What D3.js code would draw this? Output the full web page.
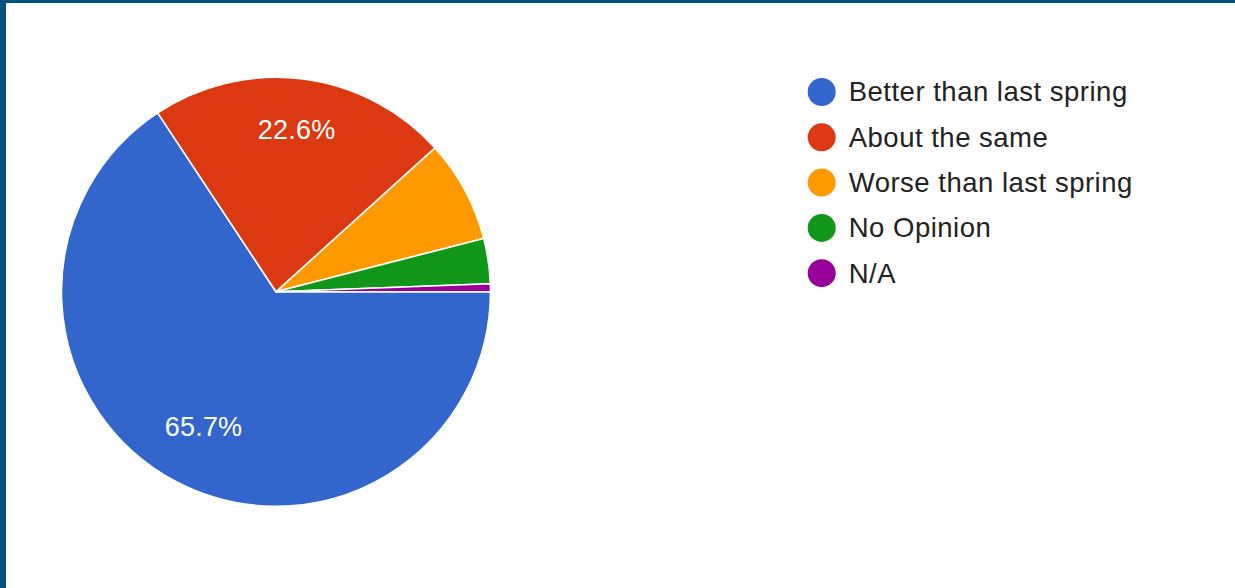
<!DOCTYPE html>
<html>
<head>
<meta charset="utf-8">
<script src="https://cdn.jsdelivr.net/npm/d3@7"></script>
<style>
  html, body { margin: 0; padding: 0; background: #ffffff; }
  svg { display: block; font-family: "Liberation Sans", Arial, Helvetica, sans-serif; }
</style>
</head>
<body>
<svg id="chart" width="1235" height="588"></svg>
<script>
// Survey answers (share of responses, %)
const categories = ["Better than last spring", "About the same", "Worse than last spring", "No Opinion", "N/A"];
const shares = [65.7, 22.6, 7.7, 3.4, 0.6];
const colors = ["#3366cc", "#dc3912", "#ff9900", "#109618", "#990099"];

const W = 1235, H = 588;
const svg = d3.select("#chart");

// frame
svg.append("rect").attr("x", 0).attr("y", 0).attr("width", W).attr("height", H).attr("fill", "#03517e");
svg.append("rect").attr("x", 6).attr("y", 3).attr("width", W - 6).attr("height", H - 3).attr("fill", "#ffffff");

const cx = 276, cy = 291.8, R = 214.5;
const data = categories.map((c, i) => ({ name: c, value: shares[i] }));

const color = d3.scaleOrdinal().domain(categories).range(colors);

// slices run clockwise starting from 3 o'clock
const pie = d3.pie().value(d => d.value).sort(null)
  .startAngle(Math.PI / 2).endAngle(Math.PI / 2 + 2 * Math.PI);
const arcs = pie(data);
const arc = d3.arc().innerRadius(0).outerRadius(R);

const g = svg.append("g").attr("transform", `translate(${cx},${cy})`);
g.selectAll("path.slice").data(arcs).join("path")
  .attr("class", "slice")
  .attr("d", arc)
  .attr("fill", d => color(d.data.name))
  .attr("stroke", "#ffffff")
  .attr("stroke-width", 1.6)
  .attr("stroke-linejoin", "round");

// percentage labels for the larger slices; the label box is pushed out along
// the bisector until its outer corner reaches 85% of the radius
const fmt = d => d.toFixed(1) + "%";
const labelSize = 27, capH = labelSize * 0.716;
g.selectAll("text.pct").data(arcs.filter(d => d.data.value >= 10)).join("text")
  .attr("class", "pct")
  .attr("fill", "#ffffff")
  .attr("font-size", labelSize)
  .attr("letter-spacing", 0.2)
  .attr("text-anchor", "middle")
  .text(d => fmt(d.data.value))
  .each(function (d) {
    const a = (d.startAngle + d.endAngle) / 2;
    const ux = Math.sin(a), uy = -Math.cos(a);
    const hw = this.getComputedTextLength() / 2, hh = capH / 2;
    const sx = Math.sign(ux) * hw, sy = Math.sign(uy) * hh;
    const target = R * 0.85;
    // |rho*u + s|^2 = target^2
    const b = ux * sx + uy * sy;
    const c = sx * sx + sy * sy - target * target;
    const rho = -b + Math.sqrt(b * b - c);
    d3.select(this)
      .attr("x", rho * ux)
      .attr("y", rho * uy + hh);
  });

// legend
const legend = svg.append("g").attr("transform", "translate(821.7,92)");
const rowH = 45.3;
const rows = legend.selectAll("g.row").data(categories).join("g")
  .attr("class", "row")
  .attr("transform", (d, i) => `translate(0,${i * rowH})`);
rows.append("circle").attr("r", 14).attr("fill", d => color(d));
rows.append("text")
  .attr("x", 27)
  .attr("y", 9.3)
  .attr("font-size", 27.5)
  .attr("letter-spacing", 0.5)
  .attr("fill", "#222222")
  .text(d => d);
</script>
</body>
</html>
